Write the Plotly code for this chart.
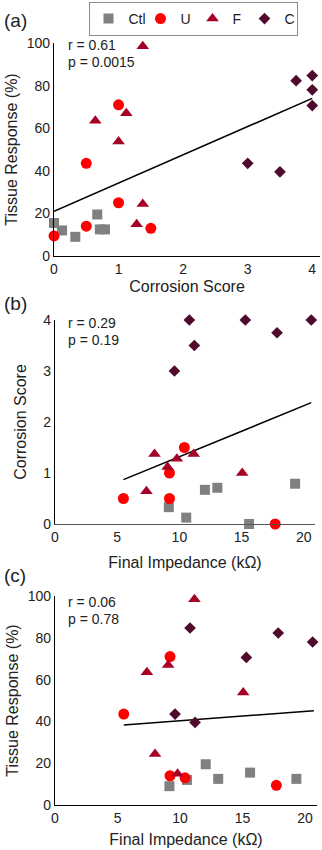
import plotly.graph_objects as go

W, H = 322, 850

# ---------------- data ----------------
groups = ["Ctl", "U", "F", "C"]

ctl_corr = [0.33, 0.125, 0.67, 0.71, 0.0, 0.79]
ctl_tr = [9.0, 12.0, 19.5, 12.5, 15.5, 12.5]
ctl_imp = [9.15, 10.55, 12.05, 13.05, 15.6, 19.3]

u_corr = [0.0, 0.5, 0.5, 1.0, 1.0, 1.5]
u_tr = [9.4, 43.5, 14.0, 71.0, 25.0, 13.0]
u_imp = [17.7, 5.5, 9.2, 9.2, None, 10.4]

f_corr = [1.375, 0.64, 1.12, 1.0, 1.375, 1.28]
f_tr = [98.5, 63.5, 67.0, 53.8, 24.4, 14.9]
f_imp = [11.15, 7.35, 9.05, 15.05, 8.0, 9.8]

c_corr = [3.0, 3.5, 3.75, 4.0, 4.0, 4.0]
c_tr = [43.5, 39.5, 82.3, 84.7, 78.0, 70.6]
c_imp = [9.6, 11.2, 17.85, 10.8, 20.6, 15.3]

fit_a_x = [0.0, 4.0]
fit_a_y = [21.0, 74.0]
fit_b_x = [5.5, 20.6]
fit_b_y = [0.87, 2.38]
fit_c_x = [5.5, 20.7]
fit_c_y = [38.3, 45.1]

stats_a = ["r = 0.61", "p = 0.0015"]
stats_b = ["r = 0.29", "p = 0.19"]
stats_c = ["r = 0.06", "p = 0.78"]

# ---------------- styles ----------------
FONT = "Arial, Liberation Sans, sans-serif"
styles = {
    "Ctl": dict(symbol="square", size=10, color="#808080"),
    "U": dict(symbol="circle", size=11, color="#FF0000"),
    "F": dict(symbol="triangle-up", size=11, color="#A50026"),
    "C": dict(symbol="diamond", size=9, color="#4F0A2C"),
}
series = {
    "Ctl": (ctl_corr, ctl_tr, ctl_imp),
    "U": (u_corr, u_tr, u_imp),
    "F": (f_corr, f_tr, f_imp),
    "C": (c_corr, c_tr, c_imp),
}

fig = go.Figure()

panels = [
    ("x", "y", 0, 1),
    ("x2", "y2", 2, 0),
    ("x3", "y3", 2, 1),
]

for (fx, fy), (xa, ya) in zip([(fit_a_x, fit_a_y), (fit_b_x, fit_b_y), (fit_c_x, fit_c_y)],
                              [("x", "y"), ("x2", "y2"), ("x3", "y3")]):
    fig.add_trace(go.Scatter(x=fx, y=fy, mode="lines", xaxis=xa, yaxis=ya,
                             line=dict(color="black", width=1.6), showlegend=False,
                             hoverinfo="skip"))

for pi, (xa, ya, xi, yi) in enumerate(panels):
    for g in groups:
        vals = series[g]
        st = styles[g]
        fig.add_trace(go.Scatter(
            x=vals[xi], y=vals[yi], mode="markers", name=g,
            xaxis=xa, yaxis=ya, legendgroup=g, showlegend=(pi == 0),
            marker=dict(symbol=st["symbol"], size=st["size"], color=st["color"],
                        line=dict(width=0)),
            cliponaxis=False,
        ))

def px(v):
    return v / W

def py(v):
    return 1 - v / H

tickfont = dict(family=FONT, size=14, color="#222")
titlefont = dict(family=FONT, size=16, color="#222")

def xaxis(dom, rng, dtick, title, anchor, color="black", standoff=2):
    return dict(domain=dom, range=rng, dtick=dtick, tick0=0, showgrid=False, zeroline=False,
                showline=True, linecolor=color, linewidth=1.3, ticks="", anchor=anchor,
                tickfont=tickfont, title=dict(text=title, font=titlefont, standoff=standoff),
                automargin=False, fixedrange=True)

def yaxis(dom, rng, dtick, title, anchor, standoff):
    return dict(domain=dom, range=rng, dtick=dtick, tick0=0, showgrid=False, zeroline=False,
                showline=True, linecolor="black", linewidth=1.3, ticks="", anchor=anchor,
                tickfont=tickfont, title=dict(text=title, font=titlefont, standoff=standoff),
                automargin=False, fixedrange=True)

fig.update_layout(
    width=W, height=H,
    margin=dict(l=0, r=0, t=0, b=0, autoexpand=False),
    paper_bgcolor="white", plot_bgcolor="white",
    font=dict(family=FONT, color="#222"),
    xaxis=xaxis([px(54), px(320)], [0, 4.12], 1, "Corrosion Score", "y", standoff=4),
    yaxis=yaxis([py(256), py(43)], [0, 100], 20, "Tissue Response (%)", "x", 5),
    xaxis2=xaxis([px(55), px(315)], [0, 20.9], 5, "Final Impedance (kΩ)", "y2",
                 color="#555", standoff=12),
    yaxis2=yaxis([py(524), py(320)], [0, 4], 1, "Corrosion Score", "x2", 12),
    xaxis3=xaxis([px(55), px(317)], [0, 20.95], 5, "Final Impedance (kΩ)", "y3", standoff=8),
    yaxis3=yaxis([py(805), py(596)], [0, 100], 20, "Tissue Response (%)", "x3", 5),
    legend=dict(orientation="h", xref="paper", yref="paper",
                x=px(193), xanchor="center", y=py(2), yanchor="top",
                bordercolor="#8c8c8c", borderwidth=1, bgcolor="white",
                font=dict(family=FONT, size=14, color="#222"),
                entrywidth=7, itemwidth=30, tracegroupgap=0),
    showlegend=True,
)

annotations = []
for lab, ycen in [("(a)", 20), ("(b)", 303), ("(c)", 575)]:
    annotations.append(dict(text=lab, xref="paper", yref="paper", x=px(2), y=py(ycen),
                            xanchor="left", yanchor="middle", showarrow=False,
                            font=dict(family=FONT, size=19, color="#222")))
for stats, y0 in [(stats_a, 45), (stats_b, 323), (stats_c, 602)]:
    for i, s in enumerate(stats):
        annotations.append(dict(text=s, xref="paper", yref="paper", x=px(66), y=py(y0 + 17 * i),
                                xanchor="left", yanchor="middle", showarrow=False,
                                font=dict(family=FONT, size=14, color="#222")))
fig.update_layout(annotations=annotations)

fig.write_html("out.html")
